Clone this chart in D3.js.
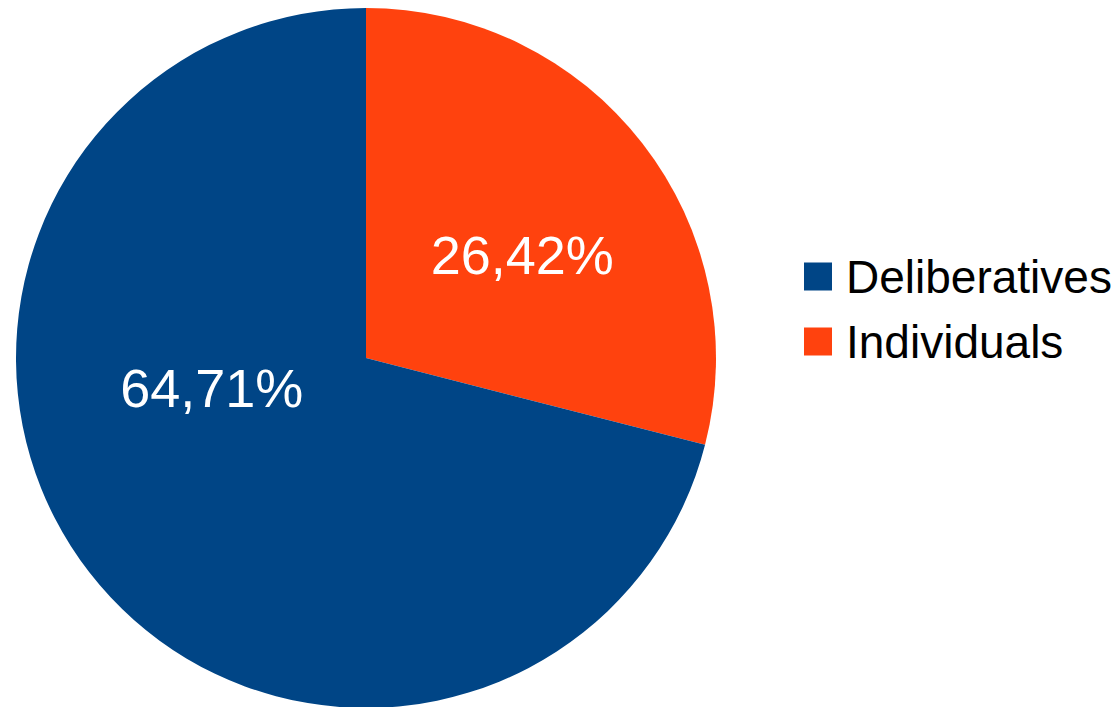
<!DOCTYPE html>
<html><head><meta charset="utf-8">
<script src="https://cdn.jsdelivr.net/npm/d3@7"></script>
<style>html,body{margin:0;padding:0;background:#fff;}svg{display:block;font-family:"Liberation Sans",Arial,sans-serif;}</style>
</head><body>
<svg id="chart" width="1120" height="707"></svg>
<script>
const categories = ["Individuals", "Deliberatives"];
const values = [26.42, 64.71];
const colors = ["#ff420e", "#004586"];
const legendOrder = ["Deliberatives", "Individuals"];
const labelShift = [[18, 4], [-16, -77]];

const svg = d3.select("#chart");
const cx = 366, cy = 358, R = 350;
const g = svg.append("g").attr("transform", `translate(${cx},${cy})`);
const pie = d3.pie().sort(null).value(d => d.v);
const data = categories.map((c, i) => ({c, v: values[i], col: colors[i], i}));
const arcs = pie(data);
const arc = d3.arc().innerRadius(0).outerRadius(R);
g.selectAll("path").data(arcs).enter().append("path")
  .attr("d", arc).attr("fill", d => d.data.col);
const fmt = v => v.toFixed(2).replace(".", ",") + "%";
g.selectAll("text.lbl").data(arcs).enter().append("text").attr("class", "lbl")
  .attr("x", d => arc.centroid(d)[0] + labelShift[d.data.i][0])
  .attr("y", d => arc.centroid(d)[1] + labelShift[d.data.i][1])
  .attr("text-anchor", "middle").attr("dominant-baseline", "central")
  .attr("fill", "#fff").attr("font-size", 54)
  .text(d => fmt(d.data.v));

const ly = d3.scaleBand().domain(legendOrder).range([244, 374]);
const lg = svg.append("g");
legendOrder.forEach(name => {
  const i = categories.indexOf(name);
  const y = ly(name) + ly.bandwidth() / 2;
  lg.append("rect").attr("x", 804).attr("y", y - 14).attr("width", 28).attr("height", 28).attr("fill", colors[i]);
  lg.append("text").attr("x", 846).attr("y", y + 16).attr("font-size", 46).attr("fill", "#000").text(name);
});
</script>
</body></html>
